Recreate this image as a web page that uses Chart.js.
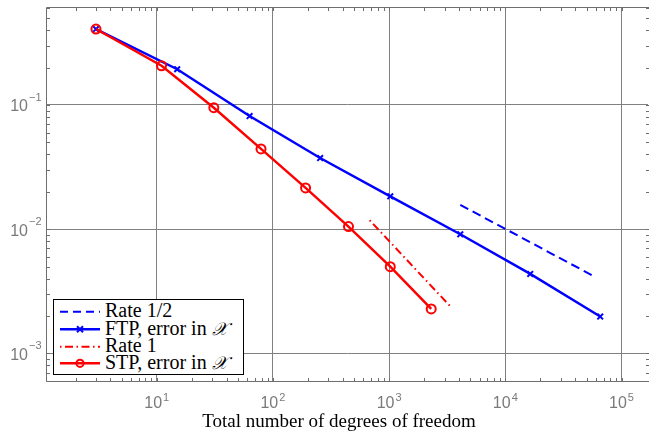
<!DOCTYPE html>
<html><head><meta charset="utf-8">
<script src="https://cdn.jsdelivr.net/npm/chart.js@4.4.0/dist/chart.umd.min.js"></script>
<style>
html,body{margin:0;padding:0;background:#fff;}
#wrap{position:relative;width:649px;height:432px;overflow:hidden;background:#fff;}
#c{position:absolute;left:0;top:0;}
.txt{position:absolute;font-family:"Liberation Serif","Times New Roman",serif;font-size:20px;line-height:20px;color:#000;white-space:nowrap;}
.cal{font-family:"DejaVu Sans","Noto Sans",serif;font-style:italic;font-size:18px;}
#xlabel{font-size:19px;line-height:19px;}
#legbox{position:absolute;left:53px;top:299px;width:189px;height:74px;border:1.5px solid #000;background:#fff;}
#legsvg{position:absolute;left:0;top:0;}
</style>
</head><body>
<div id="wrap">
<canvas id="c" width="649" height="432"></canvas>
<div id="legbox"></div>
<svg id="legsvg" width="649" height="432" xmlns="http://www.w3.org/2000/svg">
  <line x1="60" y1="311.7" x2="100" y2="311.7" stroke="#0000ff" stroke-width="2" stroke-dasharray="8,5"/>
  <line x1="60" y1="329.3" x2="100" y2="329.3" stroke="#0000ff" stroke-width="2.5"/>
  <line x1="77" y1="326.3" x2="83" y2="332.3" stroke="#0000ff" stroke-width="2"/>
  <line x1="77" y1="332.3" x2="83" y2="326.3" stroke="#0000ff" stroke-width="2"/>
  <line x1="60" y1="346.7" x2="100" y2="346.7" stroke="#ff0000" stroke-width="2" stroke-dasharray="1.5,3.5,8,3.5"/>
  <line x1="60" y1="363.3" x2="100" y2="363.3" stroke="#ff0000" stroke-width="2.5"/>
  <circle cx="80" cy="363.3" r="3.6" fill="none" stroke="#ff0000" stroke-width="2"/>
</svg>
<div class="txt" style="left:105px;top:300.3px">Rate 1/2</div>
<div class="txt" style="left:105px;top:317.9px">FTP, error in <span class="cal">𝒳</span></div>
<div class="txt" style="left:105px;top:335.3px">Rate 1</div>
<div class="txt" style="left:105px;top:351.9px">STP, error in <span class="cal">𝒳</span></div>
<div class="txt" id="xlabel" style="left:0;width:678px;text-align:center;top:411px">Total number of degrees of freedom</div>
</div>
<script>
// ---- data ----
const ftpDofs   = [3, 15, 63, 255, 1023, 4095, 16383, 65535];
const ftpError  = [0.409, 0.194, 0.0815, 0.0374, 0.0184, 0.0091, 0.00436, 0.00198];
const stpDofs   = [3, 11, 31, 79, 191, 447, 1023, 2303];
const stpError  = [0.409, 0.207, 0.0951, 0.0443, 0.0215, 0.0105, 0.00499, 0.00228];
const rateHalfDofs = [4095, 60000];
const rateHalfVals = [0.0157, 0.0041];
const rateOneDofs  = [680, 3350];
const rateOneVals  = [0.0118, 0.0024];
const xTickExps = [1, 2, 3, 4, 5];
const yTickExps = [-1, -2, -3];
const xMin = 1.137, xMax = 169000;
const yMin = 5.99e-4, yMax = 0.604;

const pts = (xs, ys) => xs.map((x, i) => ({x: x, y: ys[i]}));

function minorValues(min, max) {
  const out = [];
  for (let e = Math.floor(Math.log10(min)); e <= Math.ceil(Math.log10(max)); e++) {
    for (let k = 1; k <= 9; k++) {
      const v = k * Math.pow(10, e);
      if (v >= min && v <= max) out.push(v);
    }
  }
  return out;
}

const axisPlugin = {
  id: 'axisDeco',
  afterDatasetsDraw(chart) {
    const {ctx, chartArea: a, scales: {x, y}} = chart;
    const L = Math.round(a.left) - 0.5, T = Math.round(a.top) - 0.5;
    const B = Math.round(a.bottom) + 0.5, R = Math.round(a.right) + 1.5;
    ctx.save();
    ctx.strokeStyle = '#6f6f6f';
    ctx.lineWidth = 1;
    ctx.beginPath();
    minorValues(xMin, xMax).forEach(v => {
      const p = Math.round(x.getPixelForValue(v)) + 0.5;
      ctx.moveTo(p, B); ctx.lineTo(p, B - 3.5);
      ctx.moveTo(p, T); ctx.lineTo(p, T + 3.5);
    });
    minorValues(yMin, yMax).forEach(v => {
      const p = Math.round(y.getPixelForValue(v)) + 0.5;
      ctx.moveTo(L, p); ctx.lineTo(L + 3.5, p);
      ctx.moveTo(R, p); ctx.lineTo(R - 3.5, p);
    });
    // frame (right side falls at the canvas edge)
    ctx.moveTo(R, T); ctx.lineTo(L, T); ctx.lineTo(L, B); ctx.lineTo(R, B);
    ctx.stroke();
    // tick labels 10^n
    ctx.fillStyle = '#7a7a7a';
    const baseFont = '16px "Liberation Sans", Arial, sans-serif';
    const expFont = '11px "Liberation Sans", Arial, sans-serif';
    ctx.textBaseline = 'alphabetic';
    ctx.textAlign = 'left';
    xTickExps.forEach(e => {
      const p = x.getPixelForValue(Math.pow(10, e));
      ctx.font = baseFont; const wb = ctx.measureText('10').width;
      const es = String(e).replace('-', '\u2212');
      ctx.font = expFont; const we = ctx.measureText(es).width;
      const left = p - (wb + we + 1) / 2;
      ctx.font = baseFont;
      ctx.fillText('10', left, a.bottom + 27);
      ctx.font = expFont;
      ctx.fillText(es, left + wb + 1, a.bottom + 19.5);
    });
    yTickExps.forEach(e => {
      const p = y.getPixelForValue(Math.pow(10, e));
      const es = String(e).replace('-', '\u2212');
      ctx.font = expFont; const we = ctx.measureText(es).width;
      ctx.font = baseFont; const wb = ctx.measureText('10').width;
      const right = a.left - 5.5;
      ctx.font = expFont;
      ctx.fillText(es, right - we, p - 4);
      ctx.font = baseFont;
      ctx.fillText('10', right - we - 1 - wb, p + 6.5);
    });
    ctx.restore();
  }
};

new Chart(document.getElementById('c'), {
  type: 'line',
  data: {
    datasets: [
      {label: 'Rate 1/2', data: pts(rateHalfDofs, rateHalfVals), borderColor: '#0000ff',
       borderWidth: 2, borderDash: [9, 5], pointRadius: 0, order: 4},
      {label: 'FTP, error in X', data: pts(ftpDofs, ftpError), borderColor: '#0000ff',
       borderWidth: 2.5, pointStyle: 'crossRot', pointRadius: 4, pointBorderWidth: 2,
       pointBorderColor: '#0000ff', order: 3},
      {label: 'Rate 1', data: pts(rateOneDofs, rateOneVals), borderColor: '#ff0000',
       borderWidth: 2, borderDash: [1.5, 3.5, 8, 3.5], pointRadius: 0, order: 2},
      {label: 'STP, error in X', data: pts(stpDofs, stpError), borderColor: '#ff0000',
       borderWidth: 2.5, pointStyle: 'circle', pointRadius: 4.5, pointBorderWidth: 2,
       pointBorderColor: '#ff0000', pointBackgroundColor: 'rgba(0,0,0,0)', order: 1}
    ]
  },
  options: {
    responsive: false,
    animation: false,
    devicePixelRatio: 1,
    layout: {autoPadding: false, padding: {left: 47, top: 8, right: 1, bottom: 51}},
    plugins: {legend: {display: false}, tooltip: {enabled: false}},
    elements: {line: {tension: 0}},
    scales: {
      x: {
        type: 'logarithmic', min: xMin, max: xMax,
        ticks: {display: false},
        grid: {color: '#808080', lineWidth: 1, drawTicks: false},
        border: {display: false},
        afterBuildTicks: s => { s.ticks = xTickExps.map(e => ({value: Math.pow(10, e), major: true})); },
        afterFit: s => { s.height = 0; }
      },
      y: {
        type: 'logarithmic', min: yMin, max: yMax,
        ticks: {display: false},
        grid: {color: '#808080', lineWidth: 1, drawTicks: false},
        border: {display: false},
        afterBuildTicks: s => { s.ticks = yTickExps.map(e => ({value: Math.pow(10, e), major: true})); },
        afterFit: s => { s.width = 0; }
      }
    }
  },
  plugins: [axisPlugin]
});
</script>
</body></html>
